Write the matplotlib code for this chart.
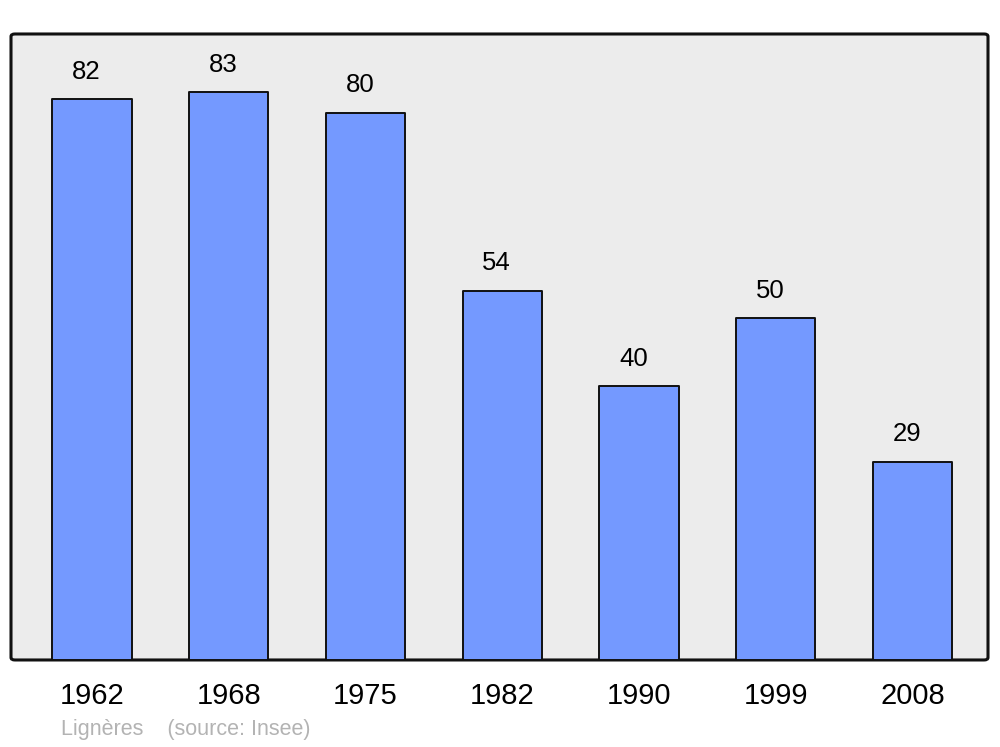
import matplotlib
matplotlib.use("Agg")
import matplotlib.pyplot as plt
from matplotlib.patches import FancyBboxPatch

plt.rcParams['font.family'] = ['Liberation Sans', 'DejaVu Sans']

years = ['1962', '1968', '1975', '1982', '1990', '1999', '2008']
population = [82, 83, 80, 54, 40, 50, 29]
place = 'Lignères'
source = '(source: Insee)'

fig = plt.figure(figsize=(10, 7.47), dpi=100)
ax = fig.add_axes([0.011, 0.1165, 0.977, 0.838])
ax.patch.set_visible(False)
for s in ax.spines.values():
    s.set_visible(False)

# rounded grey frame
frame = FancyBboxPatch((0, 0), 1, 1, boxstyle="round,pad=0,rounding_size=0.004",
                       transform=ax.transAxes, facecolor='#ececec',
                       edgecolor='#111111', linewidth=2.2, zorder=0, clip_on=False)
ax.add_patch(frame)

x = range(len(years))
bars = ax.bar(x, population, width=0.58, color='#7499ff', edgecolor='#111111',
              linewidth=1.4, zorder=2)
for b in bars:
    b.set_joinstyle('round')

for i, v in enumerate(population):
    ax.text(i - 0.04, v + 4.0, str(v), ha='center', va='center', fontsize=18.5, color='black')

ax.set_xlim(-0.592, 6.552)
ax.set_ylim(0, 91.5)
ax.set_yticks([])
ax.set_xticks(list(x))
ax.set_xticklabels(years, fontsize=21)
ax.tick_params(axis='x', length=0, pad=16)
for lbl in ax.get_xticklabels():
    lbl.set_x(lbl.get_position()[0])

fig.text(0.061, 0.0228, place + '    ' + source, fontsize=15.5, color='#b3b3b3',
         ha='left', va='center')

fig.savefig('out.png', dpi=100)
